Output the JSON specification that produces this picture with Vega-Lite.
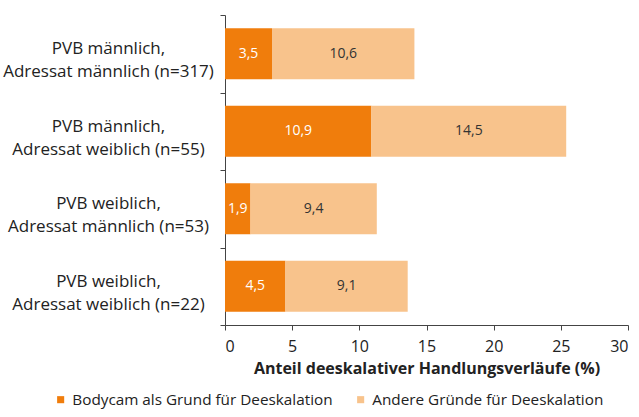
{
  "$schema": "https://vega.github.io/schema/vega-lite/v6.json",
  "width": 403,
  "height": 310,
  "autosize": {"type": "none"},
  "padding": {"left": 225, "top": 15, "right": 11, "bottom": 92},
  "background": "white",
  "config": {
    "font": "Open Sans",
    "view": {"stroke": null},
    "locale": {"number": {"decimal": ",", "thousands": ".", "grouping": [3], "currency": ["", " €"]}}
  },
  "data": {
    "values": [
      {"category": "PVB männlich, Adressat männlich (n=317)", "reason": "Bodycam als Grund für Deeskalation", "value": 3.5},
      {"category": "PVB männlich, Adressat männlich (n=317)", "reason": "Andere Gründe für Deeskalation", "value": 10.6},
      {"category": "PVB männlich, Adressat weiblich (n=55)", "reason": "Bodycam als Grund für Deeskalation", "value": 10.9},
      {"category": "PVB männlich, Adressat weiblich (n=55)", "reason": "Andere Gründe für Deeskalation", "value": 14.5},
      {"category": "PVB weiblich, Adressat männlich (n=53)", "reason": "Bodycam als Grund für Deeskalation", "value": 1.9},
      {"category": "PVB weiblich, Adressat männlich (n=53)", "reason": "Andere Gründe für Deeskalation", "value": 9.4},
      {"category": "PVB weiblich, Adressat weiblich (n=22)", "reason": "Bodycam als Grund für Deeskalation", "value": 4.5},
      {"category": "PVB weiblich, Adressat weiblich (n=22)", "reason": "Andere Gründe für Deeskalation", "value": 9.1}
    ]
  },
  "transform": [
    {"stack": "value", "groupby": ["category"], "sort": [{"field": "reason", "order": "descending"}], "as": ["x0", "x1"]},
    {"calculate": "(datum.x0 + datum.x1) / 2", "as": "xmid"}
  ],
  "encoding": {
    "y": {
      "field": "category",
      "type": "nominal",
      "sort": null,
      "title": null,
      "scale": {"paddingInner": 0, "paddingOuter": 0},
      "axis": {
        "labelExpr": "datum.label ? [split(datum.label, ', ')[0] + ',', split(datum.label, ', ')[1]] : ''",
        "labelAlign": "center",
        "labelPadding": 112,
        "labelOffset": -5,
        "labelFontSize": 17,
        "labelColor": "#222",
        "labelLineHeight": 23,
        "tickBand": "extent",
        "tickSize": 5,
        "tickColor": "#444",
        "domainColor": "#444",
        "labelLimit": 300
      }
    }
  },
  "layer": [
    {
      "mark": {"type": "bar", "height": {"band": 0.66}},
      "encoding": {
        "x": {
          "field": "x0",
          "type": "quantitative",
          "scale": {"domain": [0, 30]},
          "title": "Anteil deeskalativer Handlungsverläufe (%)",
          "axis": {
            "values": [0, 5, 10, 15, 20, 25, 30],
            "grid": false,
            "labelFontSize": 16,
            "labelColor": "#222",
            "labelPadding": 8,
            "titleFontSize": 16,
            "titleFontWeight": "bold",
            "titleColor": "#222",
            "titlePadding": 6,
            "tickSize": 5,
            "tickColor": "#444",
            "domainColor": "#444"
          }
        },
        "x2": {"field": "x1"},
        "color": {
          "field": "reason",
          "type": "nominal",
          "scale": {
            "domain": ["Bodycam als Grund für Deeskalation", "Andere Gründe für Deeskalation"],
            "range": ["#f07d0c", "#f8c38c"]
          },
          "legend": {
            "title": null,
            "orient": "none",
            "direction": "horizontal",
            "legendX": -172,
            "legendY": 377,
            "symbolType": "square",
            "symbolSize": 50,
            "labelFontSize": 15.3,
            "labelColor": "#222",
            "columnPadding": 20,
            "labelOffset": 4,
            "labelLimit": 400
          }
        }
      }
    },
    {
      "mark": {"type": "text", "fontSize": 14},
      "encoding": {
        "x": {"field": "xmid", "type": "quantitative"},
        "text": {"field": "value", "type": "quantitative", "format": ".1f"},
        "color": {
          "condition": {"test": "datum.reason == 'Bodycam als Grund für Deeskalation'", "value": "#ffffff"},
          "value": "#333333"
        }
      }
    }
  ]
}
